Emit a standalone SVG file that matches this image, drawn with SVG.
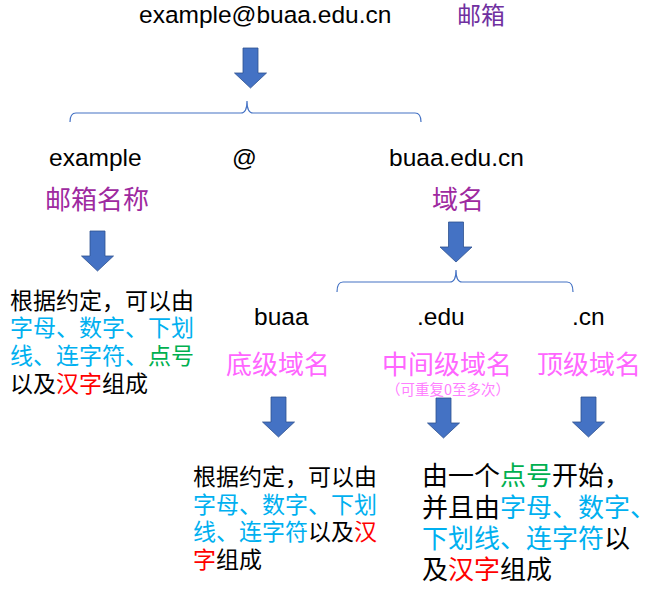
<svg xmlns="http://www.w3.org/2000/svg" xmlns:xlink="http://www.w3.org/1999/xlink" width="656" height="593" viewBox="0 0 656 593">
<style>
.lat{font-family:"Liberation Sans",Arial,sans-serif;font-size:24.5px;fill:#000}
.cjk{font-family:"Noto Sans CJK SC","Microsoft YaHei",sans-serif;fill:#000}
.purple{fill:#9E2AA0}
.dpurple{fill:#7030A0}
.mag{fill:#FF66FF}
.lmag{fill:#FF80FF}
.blue{fill:#00B0F0}
.green{fill:#00B050}
.red{fill:#FF0000}
.arrow{fill:#4472C4;stroke:#2F528F;stroke-width:0.8}
.brace{fill:none;stroke:#4472C4;stroke-width:1.2}
</style>
<defs>
<path id="dnarrow" class="arrow" d="M-7.5,0 H7.5 V25 H16 L0,40 L-16,25 H-7.5 Z"/>
</defs>
<rect width="656" height="593" fill="#fff"/>

<g id="connectors">
<use xlink:href="#dnarrow" href="#dnarrow" x="250.5" y="48"/>
<path class="brace" d="M70,122 Q70,113 76,113 H241 Q247,113 247,101 Q247,113 253,113 H415 Q421,113 421,122"/>
<use xlink:href="#dnarrow" href="#dnarrow" x="97.5" y="231"/>
<use xlink:href="#dnarrow" href="#dnarrow" x="456" y="222"/>
<path class="brace" d="M337,292 Q337,282 343,282 H450 Q456,282 456,270 Q456,282 462,282 H567 Q573,282 573,292"/>
<use xlink:href="#dnarrow" href="#dnarrow" x="278.5" y="397"/>
<use xlink:href="#dnarrow" href="#dnarrow" x="443.5" y="398"/>
<use xlink:href="#dnarrow" href="#dnarrow" x="588.5" y="397"/>
</g>

<g id="email">
<text class="lat" x="139" y="23">example@buaa.edu.cn</text>
<text class="cjk dpurple" x="457" y="23.5" font-size="24">邮箱</text>
</g>

<g id="local-part">
<text class="lat" x="49" y="166">example</text>
<text class="cjk purple" x="45" y="208.5" font-size="26">邮箱名称</text>
</g>

<g id="at">
<text class="lat" x="232" y="166">@</text>
</g>

<g id="domain">
<text class="lat" x="389" y="166">buaa.edu.cn</text>
<text class="cjk purple" x="432" y="208.5" font-size="26">域名</text>
</g>

<g id="local-rule" class="cjk" font-size="23">
<text x="10" y="308.5">根据约定，可以由</text>
<text x="10" y="336" class="cjk blue">字母、数字、下划</text>
<text x="10" y="363.5"><tspan class="blue">线、连字符、</tspan><tspan class="green">点号</tspan></text>
<text x="10" y="391.5">以及<tspan class="red">汉字</tspan>组成</text>
</g>

<g id="sld">
<text class="lat" x="254" y="325">buaa</text>
<text class="cjk mag" x="226" y="373.5" font-size="26">底级域名</text>
</g>

<g id="mld">
<text class="lat" x="417" y="325">.edu</text>
<text class="cjk mag" x="382" y="374" font-size="26">中间级域名</text>
<text class="cjk lmag" x="448" y="395" font-size="14.5" text-anchor="middle">（可重复0至多次）</text>
</g>

<g id="tld">
<text class="lat" x="572" y="325">.cn</text>
<text class="cjk mag" x="537" y="374" font-size="26">顶级域名</text>
</g>

<g id="sld-rule" class="cjk" font-size="23">
<text x="193" y="485">根据约定，可以由</text>
<text x="193" y="512.5" class="cjk blue">字母、数字、下划</text>
<text x="193" y="540"><tspan class="blue">线、连字符</tspan>以及<tspan class="red">汉</tspan></text>
<text x="193" y="567.5"><tspan class="red">字</tspan>组成</text>
</g>

<g id="label-rule" class="cjk" font-size="26">
<text x="422" y="485">由一个<tspan class="green">点号</tspan>开始，</text>
<text x="422" y="516.5">并且由<tspan class="blue">字母、数字、</tspan></text>
<text x="422" y="548"><tspan class="blue">下划线、连字符</tspan>以</text>
<text x="422" y="579">及<tspan class="red">汉字</tspan>组成</text>
</g>
</svg>
